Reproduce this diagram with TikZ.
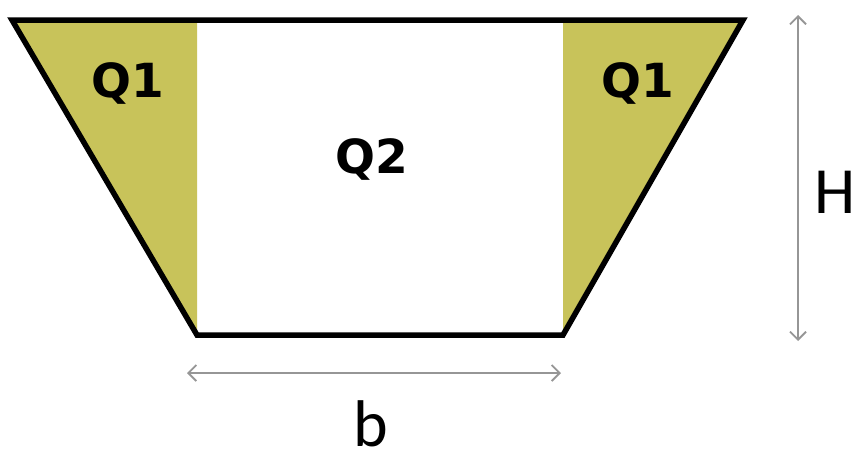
\documentclass[tikz,border=0pt]{standalone}
\usepackage{fontspec}
\setmainfont{Carlito}
\newfontfamily\qfont{DejaVu Sans}
\usetikzlibrary{arrows.meta}
\definecolor{olive1}{RGB}{200,195,90}
\definecolor{dimgray}{RGB}{150,150,150}
\tikzset{
  qlabel/.style={font=\qfont\bfseries\fontsize{47}{47}\selectfont, inner sep=0pt},
  dimlabel/.style={font=\fontsize{66}{66}\selectfont, inner sep=0pt},
  dimarrow/.style={draw=dimgray, line width=1.8pt, {Straight Barb[length=8pt,width=16pt]}-{Straight Barb[length=8pt,width=16pt]}}
}
\begin{document}
\begin{tikzpicture}[x=1pt,y=-1pt]
\useasboundingbox (0,0) rectangle (856,456);
\coordinate (TL) at (12,20);
\coordinate (TR) at (743,20);
\coordinate (BL) at (197,335);
\coordinate (BR) at (563,335);
\fill[olive1] (TL) -- (197,20) -- (BL) -- cycle;
\fill[olive1] (TR) -- (563,20) -- (BR) -- cycle;
\draw[line width=5.5pt, line join=miter] (TL) -- (TR) -- (BR) -- (BL) -- cycle;
\node[qlabel] (q1l) at (128,83) {Q1};
\node[qlabel] (q1r) at (638,83) {Q1};
\node[qlabel] (q2) at (372,159) {Q2};
\coordinate (vt) at (798,15);
\coordinate (vb) at (798,341);
\draw[dimarrow] (vt) -- (vb);
\coordinate (hl) at (187,373);
\coordinate (hr) at (561,373);
\draw[dimarrow] (hl) -- (hr);
\node[dimlabel, anchor=base west] (H) at (814,213) {H};
\node[dimlabel, anchor=base] (b) at (371,446) {b};
\end{tikzpicture}
\end{document}
